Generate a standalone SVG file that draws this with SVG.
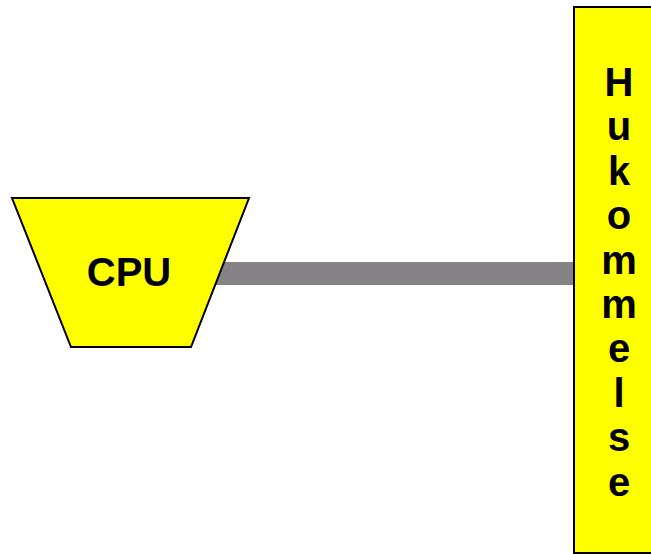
<svg xmlns="http://www.w3.org/2000/svg" width="651" height="554" viewBox="0 0 651 554">
<style>
.shape{fill:#FFFF00;stroke:#000;stroke-width:2}
.lbl{font-family:"Liberation Sans",Arial,sans-serif;font-weight:bold;font-size:40px;fill:#000;text-anchor:middle}
</style>
<rect width="651" height="554" fill="#fff"/>
<g id="connectors">
<rect x="214" y="262" width="362" height="23" fill="#858385"/>
</g>
<g id="cpu">
<polygon class="shape" points="12,198 249,198 191,347 71,347"/>
<text class="lbl" x="129" y="286">CPU</text>
</g>
<g id="hukommelse">
<rect class="shape" x="574" y="7" width="90" height="546"/>
<text class="lbl" y="96"><tspan x="619">H</tspan><tspan x="619" dy="44.4">u</tspan><tspan x="619" dy="44.4">k</tspan><tspan x="619" dy="44.4">o</tspan><tspan x="619" dy="44.4">m</tspan><tspan x="619" dy="44.4">m</tspan><tspan x="619" dy="44.4">e</tspan><tspan x="619" dy="44.4">l</tspan><tspan x="619" dy="44.4">s</tspan><tspan x="619" dy="44.4">e</tspan></text>
</g>
</svg>
